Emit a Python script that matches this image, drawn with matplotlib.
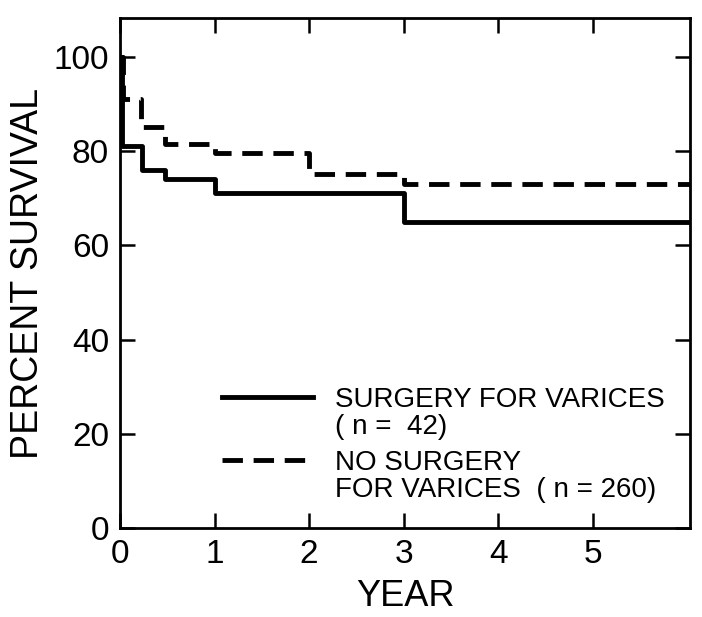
import matplotlib
matplotlib.use("Agg")
import matplotlib.pyplot as plt
from matplotlib.lines import Line2D

plt.rcParams['font.family'] = ['Liberation Sans', 'DejaVu Sans']

# Kaplan-Meier style step data
surg_years = [0, 0.02, 0.23, 0.48, 1.0, 3.0, 6.05]
surg_pct = [100, 81, 76, 74, 71, 65, 65]

nosurg_years = [0, 0.03, 0.22, 0.48, 1.0, 2.0, 3.0, 6.05]
nosurg_pct = [100, 91, 85, 81.5, 79.5, 75, 73, 73]

xticks = [0, 1, 2, 3, 4, 5]
yticks = [0, 20, 40, 60, 80, 100]

surg_label = ["SURGERY FOR VARICES", "( n =  42)"]
nosurg_label = ["NO SURGERY", "FOR VARICES  ( n = 260)"]

fig = plt.figure(figsize=(7.02, 6.17), dpi=100)
ax = fig.add_axes([0.171, 0.144, 0.812, 0.827])

lw = 3.5
dash = (4.2, 2.2)
ax.step(surg_years, surg_pct, where='post', color='black', lw=lw)
ax.step(nosurg_years, nosurg_pct, where='post', color='black', lw=lw,
        dashes=dash)

ax.set_xlim(0, 6.03)
ax.set_ylim(0, 108.2)
ax.set_xticks(xticks)
ax.set_yticks(yticks)

for s in ax.spines.values():
    s.set_linewidth(2)
ax.tick_params(direction='in', length=11, width=1.8, top=True, right=True,
               labelsize=24, pad=8)

ax.set_xlabel("YEAR", fontsize=26, labelpad=6)
ax.set_ylabel("PERCENT SURVIVAL", fontsize=27, labelpad=5)

blank = Line2D([], [], linestyle='none')
h1 = Line2D([], [], color='black', lw=lw)
h2 = Line2D([], [], color='black', lw=lw, dashes=dash)

leg_kw = dict(frameon=False, fontsize=20, handlelength=3.3, handletextpad=0.8,
              labelspacing=0.05, borderpad=0, borderaxespad=0,
              loc='upper left')
leg1 = ax.legend([h1, blank], surg_label, bbox_to_anchor=(0.178, 0.277), **leg_kw)
ax.add_artist(leg1)
ax.legend([h2, blank], nosurg_label, bbox_to_anchor=(0.178, 0.153), **leg_kw)

fig.savefig("out.png", dpi=100)
